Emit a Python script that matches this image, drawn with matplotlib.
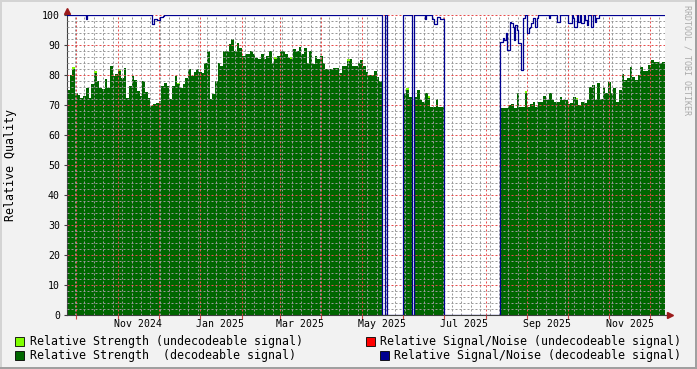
import datetime as dt
import matplotlib
matplotlib.use("Agg")
import matplotlib.pyplot as plt
import matplotlib.dates as mdates
from matplotlib.ticker import MultipleLocator
from matplotlib.patches import Rectangle

W, H = 697, 369
MONO = "DejaVu Sans Mono"

start = dt.datetime(2024, 9, 24)
span_days = 444.3

# relative strength (decodeable), one value per 2 days from start
strength = [
    75, 80, 82, 74, 73.5, 72.4, 73, 75.8, 72.5, 76.9,
    80.8, 78, 75.8, 75.5, 78.6, 75.8, 83, 79.7, 80.2, 81.3,
    79.1, 82.4, 72.4, 76.3, 79.7, 78.5, 74.7, 73, 78, 74.5,
    72.4, 69.7, 70.5, 70.8, 71.3, 76.3, 77.4, 76.3, 71.9, 76.3,
    79.7, 76.9, 75.8, 77, 79.1, 82, 79.7, 81, 82, 81,
    80.8, 84, 88, 72, 73.6, 78, 84, 83, 88, 88,
    90.2, 91.9, 88, 90.8, 89, 86.5, 86.9, 87, 88, 87,
    85.8, 85.2, 86.9, 85.2, 86.5, 88, 84.1, 85.5, 86.3, 88,
    88, 87, 85.8, 85.5, 88.6, 88, 89.5, 87, 89.1, 84.1,
    88, 83.6, 86.3, 85.2, 86.5, 84, 81.9, 81.9, 82, 82.5,
    82.3, 80.8, 83, 83, 84.7, 85.2, 83, 83, 84, 85,
    83, 81, 80, 80, 81.5, 79.4, 78, 0, 0, 0,
    0, 0, 0, 0, 0, 74, 75, 72.8, 0, 72.8,
    75, 71.7, 71.1, 74, 72.5, 69.4, 69.4, 72, 69.4, 69.4,
    0, 0, 0, 0, 0, 0, 0, 0, 0, 0,
    0, 0, 0, 0, 0, 0, 0, 0, 0, 0,
    0, 68.9, 68.9, 69, 70, 70.5, 69, 73.9, 69.4, 69.4,
    73.9, 69.4, 70.5, 71.1, 69.4, 71.1, 71.1, 73, 71.7, 73.9,
    71.7, 71.1, 71.1, 72.8, 71.7, 71.7, 70.5, 70.6, 72.8, 71.7,
    70, 71.1, 70.6, 71.7, 76, 76.7, 71.7, 77.2, 72, 76,
    73.9, 77.8, 73.9, 75.6, 71.1, 75, 80.5, 78.3, 79, 82.8,
    79.4, 78.3, 80, 82.8, 81.5, 81.5, 83.3, 85, 84.4, 84.4,
    84, 84.5,
]

# relative strength (undecodeable): small bits on top of some samples
weak_idx = [2, 10, 19, 41, 77, 83, 104, 126, 134, 170, 189]
weak_val = [0.7, 0.5, 0.6, 0.5, 0.5, 0.6, 0.5, 0.7, 0.5, 0.7, 0.5]

# relative signal/noise (decodeable): day offset from start, value (steps)
sn_day = [0, 14, 15, 63, 65, 67, 69, 71, 72,
          234, 236, 238, 250, 256, 258,
          266, 267, 271, 273, 275, 277, 280,
          322, 324, 325, 326, 327, 329, 330, 331, 332, 333, 334, 335, 337, 339, 340,
          342, 343, 344, 345, 346, 348, 349, 350,
          358, 359, 364, 366, 372, 375, 376, 377, 379, 380, 381, 382, 384, 385, 386, 387,
          389, 391, 392, 393, 395, 445]
sn_val = [100, 98.7, 100, 97.0, 98.7, 98.3, 99.3, 99.6, 100,
          0, 100, 0, 100, 0, 100,
          98.7, 100, 98.7, 97.0, 99.2, 98.7, 0,
          91.1, 92.2, 91.7, 93.9, 88.3, 97.8, 97.2, 96.1, 91.7, 96.7, 95.0, 90.6, 81.7, 98.9, 100,
          93.9, 95.6, 96.1, 97.2, 98.9, 96.1, 98.9, 100,
          98.9, 100, 97.8, 100, 97.5, 100, 98.9, 96.1, 100, 97.8, 100, 97.2, 100, 98.3, 96.7, 100,
          96.1, 100, 97.8, 98.9, 100, 100]

label_months = ["2024-11", "2025-01", "2025-03", "2025-05", "2025-07", "2025-09", "2025-11"]

legend_rows = [
    ("Relative Strength (undecodeable signal)", "#80FF00"),
    ("Relative Strength  (decodeable signal)", "#006600"),
    ("Relative Signal/Noise (undecodeable signal)", "#FF0000"),
    ("Relative Signal/Noise (decodeable signal)", "#000090"),
]


def fx(x):
    return x / W


def fy(y):
    return 1 - y / H


def main():
    xs = [start + dt.timedelta(days=2 * i) for i in range(len(strength) + 1)]
    ys = strength + [strength[-1]]
    weak = [0.0] * len(strength)
    for i, v in zip(weak_idx, weak_val):
        weak[i] = v
    top = [a + b for a, b in zip(strength, weak)]
    top = top + [top[-1]]
    sn_x = [start + dt.timedelta(days=d) for d in sn_day]

    fig = plt.figure(figsize=(W / 100, H / 100), dpi=100, facecolor="#F2F2F2")
    ax = fig.add_axes([fx(67), 1 - 315 / H, 598 / W, 300 / H])
    ax.set_facecolor("white")

    ax.fill_between(xs, ys, top, step="post", color="#80FF00", lw=0, zorder=1)
    ax.fill_between(xs, 0, ys, step="post", color="#006600", lw=0, zorder=1)
    ax.plot(sn_x, sn_val, drawstyle="steps-post", color="#000090", lw=0.9, zorder=3)

    ax.set_xlim(start, start + dt.timedelta(days=span_days))
    ax.set_ylim(0, 100)

    ax.xaxis.set_major_locator(mdates.MonthLocator())
    ax.xaxis.set_minor_locator(mdates.WeekdayLocator(byweekday=mdates.MO))
    ax.yaxis.set_major_locator(MultipleLocator(10))
    ax.yaxis.set_minor_locator(MultipleLocator(2))

    # rrdtool draws the dotted grid over the data
    ax.set_axisbelow(False)
    ax.grid(which="minor", color=(0.6, 0.6, 0.6, 0.22), linestyle=(0, (2, 2)), lw=0.72)
    ax.grid(which="major", color=(0.9, 0.3, 0.3, 0.32), linestyle=(0, (2, 2)), lw=0.72)

    ax.tick_params(axis="x", which="major", length=3, color="#CC4444", labelbottom=False)
    ax.tick_params(axis="both", which="minor", length=0)
    ax.tick_params(axis="y", which="major", length=2, color="#404040", pad=3,
                   labelsize=7.1, labelfontfamily=MONO)

    for s in ["top", "right"]:
        ax.spines[s].set_visible(False)
    for s in ["left", "bottom"]:
        ax.spines[s].set_color("#404040")
        ax.spines[s].set_linewidth(0.8)

    # axis extensions and arrows
    ax.plot([0, 0], [1, 1 + 4 / 300], transform=ax.transAxes, clip_on=False,
            color="#404040", lw=0.8)
    ax.plot([1, 1 + 4 / 598], [0, 0], transform=ax.transAxes, clip_on=False,
            color="#404040", lw=0.8)
    ax.plot([0], [1 + 4 / 300], marker="^", ms=4, color="#9B1B1B",
            transform=ax.transAxes, clip_on=False)
    ax.plot([1 + 5 / 598], [0], marker=">", ms=4, color="#9B1B1B",
            transform=ax.transAxes, clip_on=False)

    # month labels centred half a month after the grid line
    for m in label_months:
        d = dt.datetime.strptime(m, "%Y-%m")
        ax.text(d + dt.timedelta(days=15), -9 / 300, d.strftime("%b %Y"),
                transform=ax.get_xaxis_transform(), ha="center", va="center",
                family=MONO, size=7.1)

    fig.text(fx(11), fy(165), "Relative Quality", rotation=90, ha="center",
             va="center", family=MONO, size=8.4)
    fig.text(fx(687), fy(60), "RRDTOOL / TOBI OETIKER", rotation=270, ha="center",
             va="center", family=MONO, size=6, color="#AAAAAA")

    # legend
    boxes = [(15, 341), (15, 355), (366, 341), (380, 355)]
    for (label, color), (bx, by) in zip(legend_rows, boxes):
        fig.add_artist(Rectangle((fx(bx), fy(by + 5)), 9 / W, 9 / H,
                                 facecolor=color, edgecolor="black", lw=0.6,
                                 transform=fig.transFigure))
        if bx < 100:
            fig.text(fx(30), fy(by), label, ha="left", va="center",
                     family=MONO, size=8.4)
        else:
            fig.text(fx(681), fy(by), label, ha="right", va="center",
                     family=MONO, size=8.4)

    # 3d frame around the image
    fig.add_artist(Rectangle((0, 1 - 2 / H), 1, 2 / H, facecolor="#D4D4D4", lw=0,
                             transform=fig.transFigure))
    fig.add_artist(Rectangle((0, 0), 2 / W, 1, facecolor="#D4D4D4", lw=0,
                             transform=fig.transFigure))
    fig.add_artist(Rectangle((0, 0), 1, 2 / H, facecolor="#A0A0A0", lw=0,
                             transform=fig.transFigure))
    fig.add_artist(Rectangle((1 - 2 / W, 0), 2 / W, 1, facecolor="#A0A0A0", lw=0,
                             transform=fig.transFigure))

    fig.savefig("out.png", dpi=100, facecolor=fig.get_facecolor())


if __name__ == "__main__":
    main()
